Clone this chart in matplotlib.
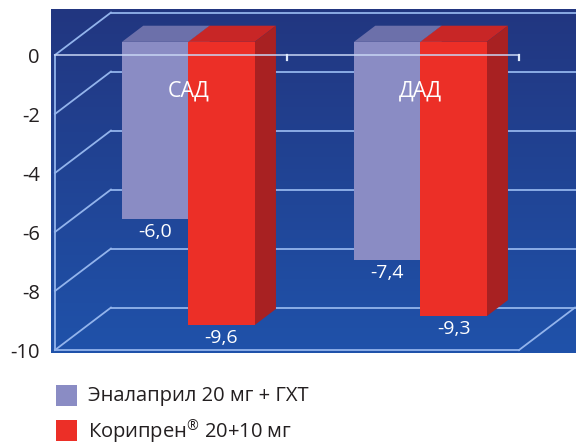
import numpy as np
import matplotlib
matplotlib.use("Agg")
import matplotlib.pyplot as plt
from matplotlib.patches import Polygon, Rectangle

plt.rcParams['font.family'] = ['Open Sans', 'DejaVu Sans']
plt.rcParams['mathtext.fontset'] = 'custom'
plt.rcParams['mathtext.rm'] = 'Open Sans'

# --- data ---
categories = ["САД", "ДАД"]
series_names = ["Эналаприл 20 мг + ГХТ", r"Корипрен$^{\mathregular{®}}$ 20+10 мг"]
enalapril = [-6.0, -7.4]
coripren = [-9.6, -9.3]
value_labels = [["-6,0", "-7,4"], ["-9,6", "-9,3"]]
yticks = [0, -2, -4, -6, -8, -10]

# --- styling ---
front_cols = ["#8a8cc4", "#ec2f27"]
top_cols = ["#6c70aa", "#c82626"]
side_cols = ["#7478b0", "#a82122"]
grid_col = "#93b4ec"
bar_w = 0.286
DX, DY = 0.2414, 1.44          # full depth offset of the box (data units)
f_front, f_back = 0.31, 0.69   # bar depth within the box

W, H = 576, 446
fig = plt.figure(figsize=(W / 100, H / 100), dpi=100)
ax = fig.add_axes([51 / W, (H - 353) / H, 525 / W, 344 / H])
xmin, xmax = -0.517, 1.7457
ymin, ymax = -10.10, 1.56
ax.set_xlim(xmin, xmax)
ax.set_ylim(ymin, ymax)

# gradient panel
grad = np.linspace(0, 1, 256)[:, None]
top_c = np.array([34, 54, 128]) / 255
bot_c = np.array([31, 82, 170]) / 255
img = top_c[None, None, :] * (1 - grad[..., None]) + bot_c[None, None, :] * grad[..., None]
img = np.repeat(img, 2, axis=1)
ax.imshow(img, extent=[xmin, xmax, ymin, ymax], aspect='auto', origin='upper', zorder=0)

# box grid
lw = 1.3
x0, x1 = -0.5, 1.5
for v in yticks:
    ax.plot([x0 + DX, xmax], [v + DY, v + DY], color=grid_col, lw=lw, zorder=1)
    ax.plot([x0, x0 + DX], [v, v + DY], color=grid_col, lw=lw, zorder=1)
ax.plot([x0, x0], [0, -10], color=grid_col, lw=lw, zorder=1)
ax.plot([x0, x1], [-10, -10], color=grid_col, lw=lw, zorder=1)
ax.plot([x1, x1 + DX], [-10, -10 + DY], color=grid_col, lw=lw, zorder=1)

# 3D bars
dxf, dyf = f_front * DX, f_front * DY
dxb, dyb = f_back * DX, f_back * DY
for ci in range(len(categories)):
    for si, vals in enumerate([enalapril, coripren]):
        v = vals[ci]
        left = ci - bar_w if si == 0 else ci
        right = left + bar_w
        z = 2 + si
        top = Polygon([(left + dxf, dyf), (right + dxf, dyf), (right + dxb, dyb), (left + dxb, dyb)],
                      closed=True, fc=top_cols[si], ec='none', zorder=z)
        side = Polygon([(right + dxf, dyf), (right + dxb, dyb), (right + dxb, v + dyb), (right + dxf, v + dyf)],
                       closed=True, fc=side_cols[si], ec='none', zorder=z)
        front = Rectangle((left + dxf, v + dyf), bar_w, -v, fc=front_cols[si], ec='none', zorder=z)
        for p in (top, side, front):
            ax.add_patch(p)
        ax.annotate(value_labels[si][ci], xy=((left + right) / 2 + dxf, v + dyf),
                    xytext=(0, -3), textcoords='offset points', ha='center', va='top',
                    color='white', fontsize=14, zorder=6)
    ax.text(ci + dxf, -1.66 + dyf, categories[ci], ha='center', va='center',
            color='white', fontsize=15.5, zorder=6)

# front zero line over the bars, with category separators
ax.plot([x0, x1], [0, 0], color='#c8d6f4', lw=lw, alpha=0.85, zorder=5)
for xb in [0.5, 1.5]:
    ax.plot([xb, xb], [0, -0.17], color='#dfe8fa', lw=1.6, zorder=5)

ax.set_yticks(yticks)
ax.set_yticklabels([str(t) for t in yticks], fontsize=14.5, color='#231f20')
ax.tick_params(axis='y', length=0, pad=8)
ax.set_xticks([])
for s in ax.spines.values():
    s.set_visible(False)

# legend
for i, name in enumerate(series_names):
    yc = 395 + i * 35
    fig.patches.append(Rectangle((56 / W, 1 - (yc + 10.5) / H), 21 / W, 21 / H,
                                 transform=fig.transFigure, fc=front_cols[i], ec='none'))
    fig.text(88 / W, 1 - (yc + 1) / H, name, ha='left', va='center', fontsize=14.5, color='#231f20')

fig.savefig("out.png", dpi=100)
